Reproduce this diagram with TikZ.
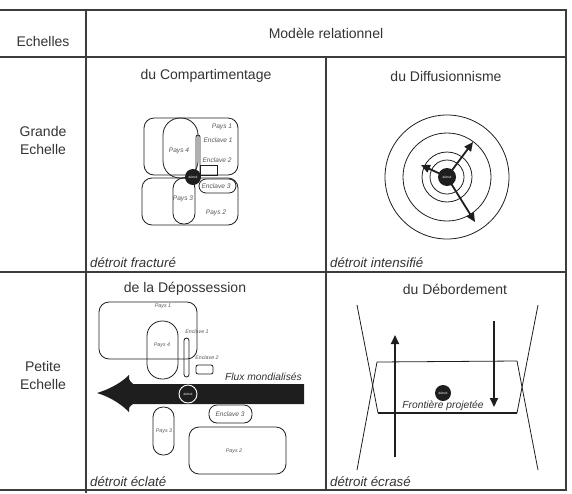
\documentclass[tikz,border=0pt]{standalone}
\usepackage{fontspec}
\setmainfont{Liberation Sans}
\usetikzlibrary{arrows.meta}
\definecolor{ink}{HTML}{333333}
\definecolor{gridc}{HTML}{3C3C3C}
\definecolor{labc}{HTML}{555555}
\definecolor{shpc}{HTML}{1E1E1E}
\begin{document}
\begin{tikzpicture}[x=1pt,y=-1pt,
  tabline/.style={draw=gridc,line width=1.1pt},
  hdr/.style={text=ink,font=\fontsize{14}{18}\selectfont,inner sep=0pt},
  ttl/.style={text=ink,font=\fontsize{14}{16}\selectfont,inner sep=0pt},
  capt/.style={text=ink,font=\itshape\fontsize{13.3}{15}\selectfont,anchor=base west,inner sep=0pt},
  shp/.style={draw=shpc,line width=0.8pt},
  lbl/.style={text=labc,font=\itshape\fontsize{6.6}{7}\selectfont,inner sep=0pt},
  smalllbl/.style={text=labc,font=\itshape\fontsize{5.3}{6}\selectfont,inner sep=0pt},
  midlbl/.style={text=ink,font=\itshape\fontsize{10.3}{12}\selectfont,inner sep=0pt},
  detdisk/.style={circle,fill=shpc,inner sep=0pt,minimum size=16pt,text=white,font=\fontsize{3.2}{3.5}\selectfont},
  bigarrow/.style={line width=1.8pt,draw=shpc,-{Triangle[length=9pt,width=8pt]}},
]
\useasboundingbox (0,0) rectangle (572,493);
% table
\draw[tabline] (0,10) -- (566,10) -- (566,490) -- (0,490);
\draw[tabline] (0,57) -- (566,57);
\draw[tabline] (0,272) -- (566,272);
\draw[tabline] (86,10) -- (86,493);
\draw[tabline] (326,57) -- (326,490);
% headers
\node[hdr] (echelles) at (43,41) {Echelles};
\node[hdr] (modele) at (326,33) {Modèle relationnel};
\node[hdr,align=center] (grande) at (43,140) {Grande\\Echelle};
\node[hdr,align=center] (petite) at (43,375) {Petite\\Echelle};
% titles
\node[ttl] (t1) at (206,76) {du Compartimentage};
\node[ttl] (t2) at (446,76) {du Diffusionnisme};
\node[ttl] (t3) at (185,289) {de la Dépossession};
\node[ttl] (t4) at (455,289) {du Débordement};
% captions
\node[capt] (c1) at (90,267) {détroit fracturé};
\node[capt] (c2) at (330,267) {détroit intensifié};
\node[capt] (c3) at (90,486) {détroit éclaté};
\node[capt] (c4) at (330,486) {détroit écrasé};

% ---- Compartimentage
\draw[shp,rounded corners=10pt] (144,118) rectangle (238,175);
\draw[shp,rounded corners=10pt] (142,178) rectangle (238,225);
\draw[shp,rounded corners=17pt] (163,118) rectangle (198,178);
\draw[shp,rounded corners=10.5pt] (173,178) rectangle (195,224);
\draw[shp,rounded corners=2pt] (196,135) rectangle (200,175);
\draw[shp] (200,165) rectangle (217,175);
\draw[shp,rounded corners=7pt] (199,179) rectangle (236,193);
\node[detdisk] (d1) at (193,177) {détroit};
\node[lbl] (p1a) at (222,127) {Pays 1};
\node[lbl] (e1a) at (218,140) {Enclave 1};
\node[lbl] (p4a) at (179,151) {Pays 4};
\node[lbl] (e2a) at (217,160) {Enclave 2};
\node[lbl] (e3a) at (216,186) {Enclave 3};
\node[lbl] (p3a) at (183,199) {Pays 3};
\node[lbl] (p2a) at (216,213) {Pays 2};

% ---- Diffusionnisme
\coordinate (cc) at (447,177);
\draw[shp] (cc) circle[radius=62];
\draw[shp] (cc) circle[radius=44];
\draw[shp] (cc) circle[radius=25];
\draw[shp] (cc) circle[radius=17];
\coordinate (a1) at (473,142);
\coordinate (a2) at (421,165);
\coordinate (a3) at (475,222);
\draw[bigarrow] (cc) -- (a1);
\draw[bigarrow] (cc) -- (a2);
\draw[bigarrow] (cc) -- (a3);
\node[detdisk,minimum size=18pt] (d2) at (cc) {détroit};

% ---- Dépossession
\draw[shp,rounded corners=10pt] (99,302) rectangle (197,359);
\draw[shp,rounded corners=15pt] (147,321) rectangle (178,379);
\draw[shp,rounded corners=2.5pt] (184,338) rectangle (189,377);
\draw[shp,rounded corners=2pt] (196,365) rectangle (213,374);
\fill[shpc] (97,393) .. controls (113,388) and (123,381) .. (129,375)
  .. controls (129,380) .. (133,384) -- (304,384) -- (304,404) -- (133,404)
  .. controls (129,407) .. (129,412) .. controls (123,406) and (113,398) .. cycle;
\node[detdisk,minimum size=18pt,draw=white,line width=0.9pt] (d3) at (188,394) {détroit};
\draw[shp,rounded corners=8pt] (209,405) rectangle (252,423);
\draw[shp,rounded corners=10pt] (153,407) rectangle (174,455);
\draw[shp,rounded corners=10pt] (189,427) rectangle (286,474);
\node[smalllbl] (p1b) at (163,306) {Pays 1};
\node[smalllbl] (e1b) at (197,332) {Enclave 1};
\node[smalllbl] (p4b) at (162,345) {Pays 4};
\node[smalllbl] (e2b) at (207,358) {Enclave 2};
\node[midlbl,anchor=base east] (flux) at (302,380) {Flux mondialisés};
\node[lbl] (e3b) at (230,414) {Enclave 3};
\node[smalllbl] (p3b) at (164,431) {Pays 3};
\node[smalllbl] (p2b) at (234,451) {Pays 2};

% ---- Débordement
\coordinate (l1s) at (357,305);
\coordinate (l2s) at (357,470);
\coordinate (r1s) at (538,305);
\coordinate (r2s) at (538,470);
\coordinate (tl) at (377,362);
\coordinate (bl) at (378,413);
\coordinate (tr) at (517,361);
\coordinate (br) at (517,413);
\draw[shp] (l1s) -- (bl);
\draw[shp] (l2s) -- (tl);
\draw[shp] (r1s) -- (br);
\draw[shp] (r2s) -- (tr);
\draw[shp] (tl) -- (tr);
\draw[draw=shpc,line width=2pt] (bl) -- (br);
\coordinate (u1) at (395,457);
\coordinate (u2) at (395,335);
\coordinate (w1) at (494,321);
\coordinate (w2) at (494,407);
\draw[bigarrow] (u1) -- (u2);
\draw[bigarrow] (w1) -- (w2);
\node[detdisk] (d4) at (443,393) {détroit};
\node[midlbl] (front) at (443,406) {Frontière projetée};
\end{tikzpicture}
\end{document}
